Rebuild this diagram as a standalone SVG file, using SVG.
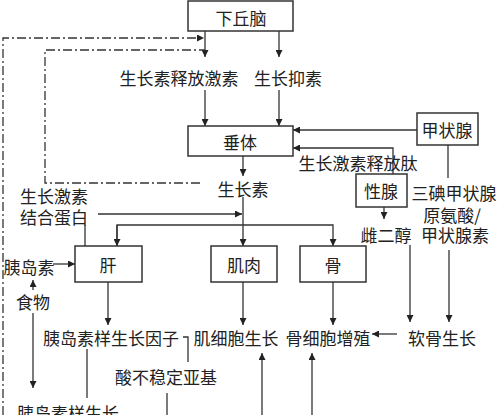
<svg xmlns="http://www.w3.org/2000/svg" width="500" height="415" viewBox="0 0 500 415">
<style>
text{font-family:"Noto Sans CJK SC","Liberation Serif",sans-serif;font-size:17px;fill:#222;text-anchor:middle;dominant-baseline:central}
.box{fill:#fff;stroke:#333;stroke-width:1.5}
.ln{fill:none;stroke:#333;stroke-width:1.3}
.dd{fill:none;stroke:#333;stroke-width:1.3;stroke-dasharray:9 3 2 3}
</style>
<defs>
<marker id="a" viewBox="0 0 10 10" refX="10" refY="5" markerWidth="8" markerHeight="7" markerUnits="userSpaceOnUse" orient="auto">
<path d="M0,0L10,5L0,10z" fill="#222"/>
</marker>
</defs>
<rect width="500" height="415" fill="#fff"/>
<g id="connectors">
<path class="ln" d="M205,31V57" marker-end="url(#a)"/>
<path class="ln" d="M279,31V57" marker-end="url(#a)"/>
<path class="ln" d="M205,90V126" marker-end="url(#a)"/>
<path class="ln" d="M279,90V126" marker-end="url(#a)"/>
<path class="dd" d="M3,415V38H204" marker-end="url(#a)"/>
<path class="dd" d="M200,183H45V50H205"/>
<path class="ln" d="M417,130H293" marker-end="url(#a)"/>
<path class="ln" d="M393,174V148H293" marker-end="url(#a)"/>
<path class="ln" d="M448,145V178"/>
<path class="ln" d="M384,207V219" marker-end="url(#a)"/>
<path class="ln" d="M243,156V176" marker-end="url(#a)"/>
<path class="ln" d="M243,197V246" marker-end="url(#a)"/>
<path class="ln" d="M98,214H242" marker-end="url(#a)"/>
<path class="ln" d="M117,246V225H333V246" marker-end="url(#a)"/>
<path class="ln" d="M117,225V246" marker-end="url(#a)"/>
<path class="ln" d="M85,225V246"/>
<path class="ln" d="M53,264H75" marker-end="url(#a)"/>
<path class="ln" d="M33,290V280" marker-end="url(#a)"/>
<path class="ln" d="M33,313V388" marker-end="url(#a)"/>
<path class="ln" d="M108,282V325" marker-end="url(#a)"/>
<path class="ln" d="M243,282V325" marker-end="url(#a)"/>
<path class="ln" d="M333,282V325" marker-end="url(#a)"/>
<path class="ln" d="M410,245V322" marker-end="url(#a)"/>
<path class="ln" d="M449,250V322" marker-end="url(#a)"/>
<path class="ln" d="M397,334H372" marker-end="url(#a)"/>
<path class="ln" d="M183,337H188V362"/>
<path class="ln" d="M87,349V398"/>
<path class="ln" d="M167,393V415"/>
<path class="ln" d="M262,415V353" marker-end="url(#a)"/>
<path class="ln" d="M312,415V353" marker-end="url(#a)"/>
</g>
<g id="hypothalamus"><rect class="box" x="188" y="1" width="105" height="30"/><text x="241" y="17">下丘脑</text></g>
<g id="ghrh"><text x="179" y="77">生长素释放激素</text></g>
<g id="somatostatin"><text x="288" y="77">生长抑素</text></g>
<g id="pituitary"><rect class="box" x="188" y="126" width="105" height="30"/><text x="240" y="141">垂体</text></g>
<g id="thyroid"><rect class="box" x="417" y="113" width="61" height="32"/><text x="447" y="129">甲状腺</text></g>
<g id="ghrp"><text x="358" y="162">生长激素释放肽</text></g>
<g id="gonad"><rect class="box" x="356" y="174" width="51" height="33"/><text x="381" y="190">性腺</text></g>
<g id="t3t4"><text x="454" y="192">三碘甲状腺</text><text x="452" y="214">原氨酸/</text><text x="455" y="234">甲状腺素</text></g>
<g id="estradiol"><text x="386" y="234">雌二醇</text></g>
<g id="gh"><text x="243" y="188">生长素</text></g>
<g id="ghbp"><text x="54" y="195">生长激素</text><text x="54" y="216">结合蛋白</text></g>
<g id="insulin"><text x="29" y="266">胰岛素</text></g>
<g id="food"><text x="33" y="301">食物</text></g>
<g id="liver"><rect class="box" x="75" y="246" width="67" height="36"/><text x="108" y="264">肝</text></g>
<g id="muscle"><rect class="box" x="211" y="246" width="66" height="36"/><text x="244" y="264">肌肉</text></g>
<g id="bone"><rect class="box" x="300" y="246" width="66" height="36"/><text x="333" y="264">骨</text></g>
<g id="igf"><text x="111" y="337">胰岛素样生长因子</text></g>
<g id="mcg"><text x="236" y="337">肌细胞生长</text></g>
<g id="bcp"><text x="328" y="337">骨细胞增殖</text></g>
<g id="cartilage"><text x="442" y="337">软骨生长</text></g>
<g id="als"><text x="166" y="376">酸不稳定亚基</text></g>
<g id="igfbp"><text x="68" y="412">胰岛素样生长</text></g>
</svg>
